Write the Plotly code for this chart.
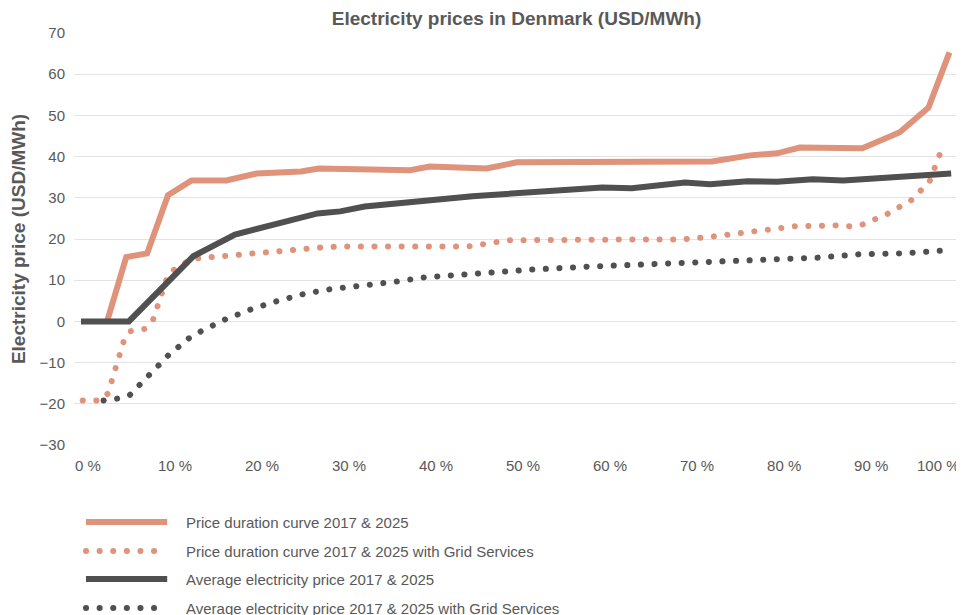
import plotly.graph_objects as go

# share of hours (%) and price (USD/MWh)
pdc_x = [3.0, 5.2, 7.6, 10.0, 12.7, 16.7, 20.2, 25.3, 27.3, 37.8, 40.1, 46.6, 50.1,
         66.2, 72.5, 76.9, 80.0, 82.6, 89.8, 94.1, 97.4, 99.8]
pdc_y = [0, 15.6, 16.5, 30.6, 34.2, 34.2, 35.9, 36.4, 37.1, 36.7, 37.6, 37.1, 38.6,
         38.8, 38.8, 40.3, 40.8, 42.2, 42.0, 45.9, 51.9, 65.3]

pdc_gs_x = [0.2, 2.2, 3.1, 4.9, 5.6, 7.4, 8.3, 10.0, 10.6, 11.8, 13.3, 17.9, 22.6, 27.2,
            30.0, 44.5, 49.2, 65.0, 69.0, 72.6, 79.0, 82.1, 86.7, 88.3, 89.8, 92.6,
            95.4, 97.5, 99.2]
pdc_gs_y = [-19.2, -19.2, -17.5, -4.9, -2.4, -1.8, 0.5, 11.3, 12.4, 14.1, 15.3, 16.0,
            17.0, 17.9, 18.2, 18.2, 19.7, 19.9, 19.9, 20.6, 22.1, 23.1, 23.3, 23.1,
            23.5, 26.0, 29.4, 33.9, 43.4]

avg_x = [0, 5.5, 12.9, 17.7, 27.2, 29.8, 32.6, 45.0, 59.9, 63.3, 69.4, 72.3, 76.6,
         80.0, 84.1, 87.6, 100]
avg_y = [0, 0, 15.8, 21.1, 26.2, 26.7, 27.9, 30.4, 32.5, 32.3, 33.7, 33.3, 34.0,
         33.9, 34.5, 34.2, 35.9]

avg_gs_x = [2.6, 4.3, 5.6, 10.0, 12.4, 13.8, 16.6, 19.5, 22.5, 25.5, 28.6, 31.7, 36.4,
            39.5, 45.7, 52.0, 58.3, 64.6, 69.2, 75.4, 80.2, 84.9, 89.5, 94.4, 99.0]
avg_gs_y = [-19.2, -18.7, -17.9, -8.3, -4.1, -2.4, 0.5, 2.9, 4.9, 6.6, 7.8, 8.5, 9.7,
            10.7, 11.7, 12.6, 13.3, 13.8, 14.3, 15.0, 15.3, 15.5, 16.3, 16.5, 17.2]

series_names = [
    "Price duration curve 2017 & 2025",
    "Price duration curve 2017 & 2025 with Grid Services",
    "Average electricity price 2017 & 2025",
    "Average electricity price 2017 & 2025 with Grid Services",
]
x_ticks = [0, 10, 20, 30, 40, 50, 60, 70, 80, 90]
x_ticktext = [f"{v} %" for v in x_ticks]

ORANGE = "#DF937A"
DARK = "#505050"
TEXT = "#595959"
FONT = "Liberation Sans, Arial, sans-serif"
DOTS = "0.1px,13.5px"

series = [
    (pdc_x, pdc_y, ORANGE, "solid"),
    (pdc_gs_x, pdc_gs_y, ORANGE, DOTS),
    (avg_x, avg_y, DARK, "solid"),
    (avg_gs_x, avg_gs_y, DARK, DOTS),
]

fig = go.Figure()
for (x, y, color, dash), name in zip(series, series_names):
    fig.add_trace(go.Scatter(x=x, y=y, mode="lines", name=name,
                             line=dict(color=color, width=6, dash=dash)))

# the page body has an 8px margin, so the figure is 8px smaller each way
OFF = 8
W, H = 964 - OFF, 615 - OFF
L, T = 74 - OFF, 33 - OFF
R, B = 5, H - (445 - OFF)
plot_w, plot_h = W - L - R, H - T - B


def px_x(p):
    return (p - OFF - L) / plot_w


def px_y(p):
    return (T + plot_h - (p - OFF)) / plot_h


# hand-made legend below the plot (long line samples like the original)
rows = [522, 551, 579, 608]
for (x, y, color, dash), name, row in zip(series, series_names, rows):
    fig.add_shape(type="line", xref="paper", yref="paper",
                  x0=px_x(86), x1=px_x(167.2), y0=px_y(row), y1=px_y(row),
                  line=dict(color=color, width=6, dash=dash))
    fig.add_annotation(text=name, xref="paper", yref="paper", x=px_x(184), y=px_y(row),
                       xanchor="left", yanchor="middle", showarrow=False,
                       font=dict(size=15, color=TEXT))

fig.add_annotation(text="100 %", xref="paper", yref="paper", x=px_x(962), y=0,
                   xanchor="right", yanchor="middle", yshift=-20, showarrow=False,
                   font=dict(size=15, color=TEXT))

fig.update_layout(
    width=W, height=H,
    paper_bgcolor="white", plot_bgcolor="white",
    font=dict(family=FONT, color=TEXT, size=15),
    title=dict(text="<b>Electricity prices in Denmark (USD/MWh)</b>", x=0.5, xref="paper",
               y=1 - (18 - OFF) / H, yanchor="middle", font=dict(size=19, color=TEXT)),
    showlegend=False,
    margin=dict(l=L, r=R, t=T, b=B, pad=0),
    xaxis=dict(range=[-0.8, 100.9], tickvals=x_ticks, ticktext=x_ticktext,
               showgrid=False, zeroline=False, showline=False,
               ticklabelshift=7, ticklabelstandoff=10),
    yaxis=dict(range=[-30, 70], dtick=10, gridcolor="#E3E3E3", gridwidth=1.3,
               zeroline=False, showline=False, ticklabelstandoff=8,
               title=dict(text="<b>Electricity price (USD/MWh)</b>", standoff=10,
                          font=dict(size=19, color=TEXT))),
)

round_caps = """
var gd = document.getElementById('{plot_id}');
function roundCaps() {
  gd.querySelectorAll('path').forEach(function (p) {
    var d = p.style.strokeDasharray;
    if (d && d !== 'none') { p.style.strokeLinecap = 'round'; }
  });
}
roundCaps();
gd.on('plotly_afterplot', roundCaps);
"""

fig.write_html("out.html", post_script=round_caps)
